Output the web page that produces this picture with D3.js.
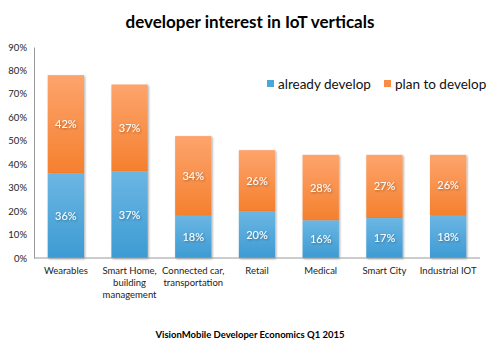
<!doctype html>
<html lang="en">
  <head>
    <meta charset="utf-8">
    <title>developer interest in IoT verticals</title>
    <style>
    body { margin: 0; background: #fff; }
    svg text { font-family: Lato, "Open Sans", sans-serif; }
    .axis path, .axis line { stroke: #9a9a9a; }
    .bar-label { fill: #fff; font-size: 11px; text-anchor: middle; }
    </style>
    <script src="https://d3js.org/d3.v7.min.js"></script>
  </head>
  <body>
    <svg width="493" height="362"></svg>
    <script>

    var categories = ["Wearables", "Smart Home,|building|management", "Connected car,|transportation", "Retail", "Medical", "Smart City", "Industrial IOT"];
    var alreadyDevelop = [36, 37, 18, 20, 16, 17, 18];
    var planToDevelop = [42, 37, 34, 26, 28, 27, 26];
    var seriesNames = ["already develop", "plan to develop"];
    var yTicks = [0, 10, 20, 30, 40, 50, 60, 70, 80, 90];

    var svg = d3.select("svg");

    var defs = svg.append("defs");
    function grad(id, top, bottom) {
      var g = defs.append("linearGradient").attr("id", id)
          .attr("x1", 0).attr("y1", 0).attr("x2", 0).attr("y2", 1);
      g.append("stop").attr("offset", "0%").attr("stop-color", top);
      g.append("stop").attr("offset", "100%").attr("stop-color", bottom);
    }
    grad("blueGrad", "#6bb6e3", "#3d9bd3");
    grad("orangeGrad", "#fda46d", "#f5802e");
    var shadow = defs.append("filter").attr("id", "shadow")
        .attr("x", "-20%").attr("y", "-20%").attr("width", "140%").attr("height", "140%");
    shadow.append("feDropShadow").attr("dx", 1).attr("dy", 1)
        .attr("stdDeviation", 0.8).attr("flood-color", "#000").attr("flood-opacity", 0.35);

    var x = d3.scaleBand().domain(categories).range([34, 480]).paddingInner(0.43).paddingOuter(0.215);
    var y = d3.scaleLinear().domain([0, 90]).range([258, 47]);

    // title
    svg.append("text").attr("x", 250).attr("y", 28)
        .attr("text-anchor", "middle").style("font-size", "17px").style("font-weight", "bold")
        .text("developer interest in IoT verticals");

    // y axis
    var yAxis = svg.append("g").attr("class", "axis").attr("transform", "translate(34,0)")
        .call(d3.axisLeft(y).tickValues(yTicks).tickSize(0).tickPadding(7).tickFormat(function(d) { return d + "%"; }));
    yAxis.selectAll("text").style("font-size", "9.5px").style("fill", "#222");

    // bars
    var g = svg.append("g");
    categories.forEach(function(c, i) {
      var a = alreadyDevelop[i], p = planToDevelop[i];
      g.append("rect").attr("x", x(c)).attr("width", x.bandwidth())
          .attr("y", y(a + p)).attr("height", y(a) - y(a + p))
          .attr("fill", "url(#orangeGrad)").attr("filter", "url(#shadow)");
      g.append("rect").attr("x", x(c)).attr("width", x.bandwidth())
          .attr("y", y(a)).attr("height", y(0) - y(a))
          .attr("fill", "url(#blueGrad)").attr("filter", "url(#shadow)");
      g.append("text").attr("class", "bar-label").attr("filter", "url(#shadow)")
          .attr("x", x(c) + x.bandwidth() / 2).attr("y", y(a / 2) + 4).text(a + "%");
      g.append("text").attr("class", "bar-label").attr("filter", "url(#shadow)")
          .attr("x", x(c) + x.bandwidth() / 2).attr("y", y(a + p / 2) + 4).text(p + "%");
    });

    // x axis
    var xAxis = svg.append("g").attr("class", "axis").attr("transform", "translate(0,258)")
        .call(d3.axisBottom(x).tickSize(0).tickFormat(""));
    xAxis.select(".domain").attr("d", "M34,0H480");
    categories.forEach(function(c) {
      var t = svg.append("text").attr("x", x(c) + x.bandwidth() / 2).attr("y", 274)
          .attr("text-anchor", "middle").style("font-size", "9.5px").style("fill", "#222");
      c.split("|").forEach(function(line, j) {
        t.append("tspan").attr("x", x(c) + x.bandwidth() / 2).attr("dy", j ? 12 : 0).text(line);
      });
    });
    svg.select("g.axis").raise();

    // legend
    var legendX = [267, 384];
    var legendColors = ["#4aa6db", "#f88c44"];
    seriesNames.forEach(function(s, i) {
      svg.append("rect").attr("x", legendX[i]).attr("y", 80).attr("width", 7).attr("height", 7)
          .attr("fill", legendColors[i]);
      svg.append("text").attr("x", legendX[i] + 11).attr("y", 89)
          .style("font-size", "13.5px").style("fill", "#111").text(s);
    });

    // source
    svg.append("text").attr("x", 250).attr("y", 338)
        .attr("text-anchor", "middle").style("font-size", "9.5px").style("font-weight", "bold")
        .text("VisionMobile Developer Economics Q1 2015");

    </script>
  </body>
</html>
